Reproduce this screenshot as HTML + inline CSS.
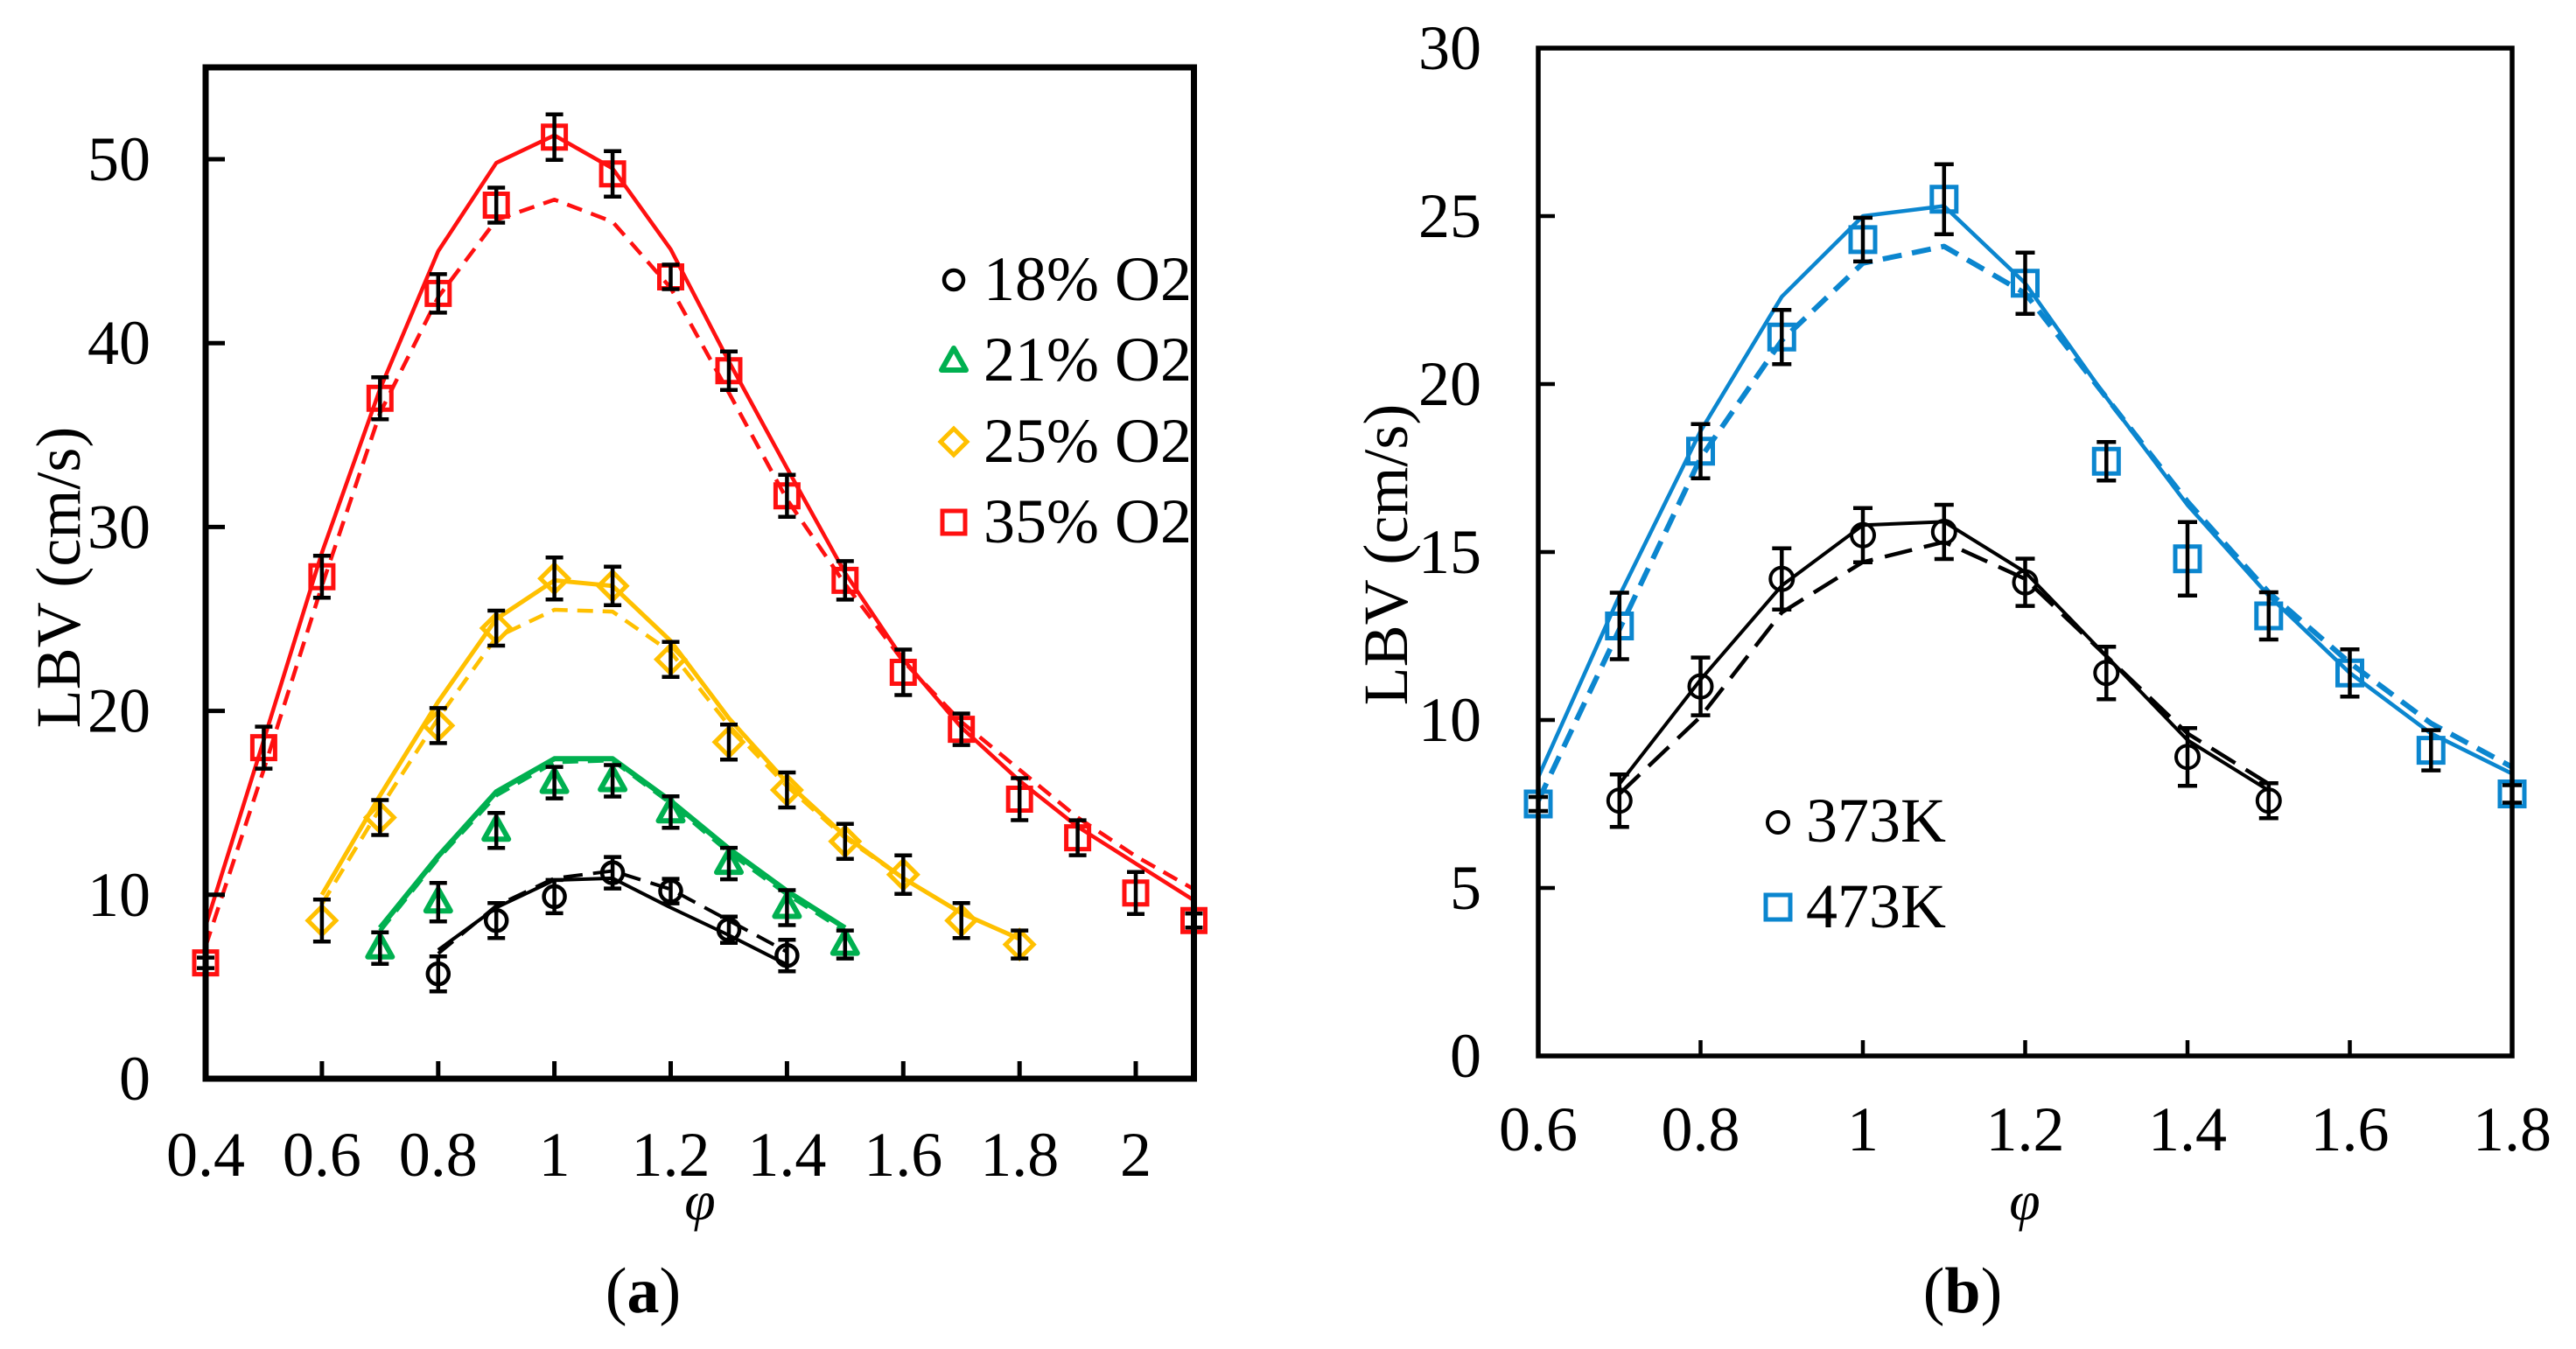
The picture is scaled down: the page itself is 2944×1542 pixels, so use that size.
<!DOCTYPE html>
<html>
<head>
<meta charset="utf-8">
<style>
html,body{margin:0;padding:0;background:#fff;}
svg{display:block;}
text{font-family:"Liberation Serif","Times New Roman",serif;fill:#000;}
</style>
</head>
<body>
<svg width="2944" height="1542" viewBox="0 0 2944 1542" xmlns="http://www.w3.org/2000/svg">
<rect width="2944" height="1542" fill="#fff"/>

<!-- ================= LEFT PLOT (a) ================= -->
<g fill="none" stroke-linejoin="round">
  <!-- red -->
  <polyline stroke="#ff1010" stroke-width="4.5" points="235,1058.5 301.4,846.2 367.9,631.8 434.3,444.7 500.8,287.1 567.2,186.2 633.6,154.7 700.1,192.5 766.5,285 833,413.2 899.4,535.1 965.8,654.9 1032.3,753.7 1098.7,831.5 1165.2,892.5 1231.6,945 1298,987.1 1364.5,1029.1"/>
  <polyline stroke="#ff1010" stroke-width="4.5" stroke-dasharray="18 11" points="235,1081.7 301.4,879.9 367.9,669.7 434.3,472.1 500.8,339.6 567.2,251.4 633.6,228.2 700.1,253.5 766.5,329.1 833,449 899.4,570.9 965.8,667.6 1032.3,755.8 1098.7,825.2 1165.2,879.9 1231.6,934.5 1298,978.7 1364.5,1016.5"/>
  <!-- yellow -->
  <polyline stroke="#ffc000" stroke-width="5" points="367.9,1022.8 434.3,909.3 500.8,802.1 567.2,707.5 633.6,663.4 700.1,669.7 766.5,732.7 833,821 899.4,894.6 965.8,955.5 1032.3,1003.9 1098.7,1043.8 1165.2,1073.2"/>
  <polyline stroke="#ffc000" stroke-width="4.5" stroke-dasharray="18 11" points="367.9,1033.3 434.3,924 500.8,821 567.2,728.5 633.6,697 700.1,699.1 766.5,745.3 833,829.4 899.4,898.8 965.8,957.6 1032.3,1003.9 1098.7,1043.8 1165.2,1073.2"/>
  <!-- green -->
  <polyline stroke="#00b050" stroke-width="6" points="434.3,1060.6 500.8,978.7 567.2,905.1 633.6,867.3 700.1,867.3 766.5,915.6 833,970.2 899.4,1018.6 965.8,1060.6"/>
  <polyline stroke="#00b050" stroke-width="5" stroke-dasharray="18 11" points="434.3,1064 500.8,981 567.2,909 633.6,871 700.1,869 766.5,918 833,974 899.4,1022 965.8,1064"/>
  <!-- black -->
  <polyline stroke="#000" stroke-width="4" points="500.8,1085.9 567.2,1037.5 633.6,1006 700.1,1003.9 766.5,1037.5 833,1069 899.4,1102.7"/>
  <polyline stroke="#000" stroke-width="4" stroke-dasharray="22 12" points="500.8,1090.1 567.2,1035.4 633.6,1003.9 700.1,995.5 766.5,1016.5 833,1052.2 899.4,1088"/>
</g>

<!-- markers left -->
<path fill="none" stroke="#ff1010" stroke-width="5" d="M222 1087.6h26v26h-26zM288.4 841.6h26v26h-26zM354.9 646.2h26v26h-26zM421.3 442.3h26v26h-26zM487.8 322.4h26v26h-26zM554.2 221.5h26v26h-26zM620.6 143.8h26v26h-26zM687.1 185.8h26v26h-26zM753.5 303.5h26v26h-26zM820 410.7h26v26h-26zM886.4 553.7h26v26h-26zM952.8 650.4h26v26h-26zM1019.3 755.5h26v26h-26zM1085.7 820.6h26v26h-26zM1152.2 900.5h26v26h-26zM1218.6 944.6h26v26h-26zM1285 1007.7h26v26h-26zM1351.5 1039.2h26v26h-26z"/>
<path fill="none" stroke="#ffc000" stroke-width="5" stroke-linejoin="miter" d="M367.9 1036.2l16 16l-16 16l-16-16zM434.3 918.5l16 16l-16 16l-16-16zM500.8 813.4l16 16l-16 16l-16-16zM567.2 702l16 16l-16 16l-16-16zM633.6 645.3l16 16l-16 16l-16-16zM700.1 653.7l16 16l-16 16l-16-16zM766.5 737.7l16 16l-16 16l-16-16zM833 832.3l16 16l-16 16l-16-16zM899.4 887l16 16l-16 16l-16-16zM965.8 945.8l16 16l-16 16l-16-16zM1032.3 983.7l16 16l-16 16l-16-16zM1098.7 1036.2l16 16l-16 16l-16-16zM1165.2 1063.6l16 16l-16 16l-16-16z"/>
<path fill="none" stroke="#00b050" stroke-width="6" stroke-linejoin="round" d="M434.3 1068.8l14 25h-28zM500.8 1016.2l14 25h-28zM567.2 934.2l14 25h-28zM633.6 879.6l14 25h-28zM700.1 877.5l14 25h-28zM766.5 913.2l14 25h-28zM833 972.1l14 25h-28zM899.4 1022.5l14 25h-28zM965.8 1064.6l14 25h-28z"/>
<g fill="none" stroke="#000" stroke-width="4.5">
  <circle cx="500.8" cy="1113.2" r="12"/><circle cx="567.2" cy="1052.2" r="12"/><circle cx="633.6" cy="1024.9" r="12"/><circle cx="700.1" cy="997.6" r="12"/><circle cx="766.5" cy="1018.6" r="12"/><circle cx="833" cy="1062.7" r="12"/><circle cx="899.4" cy="1092.2" r="12"/>
</g>

<!-- error bars left -->
<g fill="none" stroke="#000" stroke-width="4.5">
<path d="M235 1094.6V1106.6M225 1094.6H245M225 1106.6H245M301.4 830.6V878.6M291.4 830.6H311.4M291.4 878.6H311.4M367.9 635.2V683.2M357.9 635.2H377.9M357.9 683.2H377.9M434.3 431.3V479.3M424.3 431.3H444.3M424.3 479.3H444.3M500.8 313.4V357.4M490.8 313.4H510.8M490.8 357.4H510.8M567.2 214.5V254.5M557.2 214.5H577.2M557.2 254.5H577.2M633.6 130.8V182.8M623.6 130.8H643.6M623.6 182.8H643.6M700.1 172.8V224.8M690.1 172.8H710.1M690.1 224.8H710.1M766.5 302.5V330.5M756.5 302.5H776.5M756.5 330.5H776.5M833 401.7V445.7M823 401.7H843M823 445.7H843M899.4 542.7V590.7M889.4 542.7H909.4M889.4 590.7H909.4M965.8 641.4V685.4M955.8 641.4H975.8M955.8 685.4H975.8M1032.3 742.5V794.5M1022.3 742.5H1042.3M1022.3 794.5H1042.3M1098.7 815.6V851.6M1088.7 815.6H1108.7M1088.7 851.6H1108.7M1165.2 889.5V937.5M1155.2 889.5H1175.2M1155.2 937.5H1175.2M1231.6 937.6V977.6M1221.6 937.6H1241.6M1221.6 977.6H1241.6M1298 996.7V1044.7M1288 996.7H1308M1288 1044.7H1308M1364.5 1044.2V1060.2M1354.5 1044.2H1374.5M1354.5 1060.2H1374.5"/>
<path d="M367.9 1028.2V1076.2M357.9 1028.2H377.9M357.9 1076.2H377.9M434.3 914.5V954.5M424.3 914.5H444.3M424.3 954.5H444.3M500.8 809.4V849.4M490.8 809.4H510.8M490.8 849.4H510.8M567.2 698V738M557.2 698H577.2M557.2 738H577.2M633.6 637.3V685.3M623.6 637.3H643.6M623.6 685.3H643.6M700.1 647.7V691.7M690.1 647.7H710.1M690.1 691.7H710.1M766.5 733.7V773.7M756.5 733.7H776.5M756.5 773.7H776.5M833 828.3V868.3M823 828.3H843M823 868.3H843M899.4 883V923M889.4 883H909.4M889.4 923H909.4M965.8 941.8V981.8M955.8 941.8H975.8M955.8 981.8H975.8M1032.3 977.7V1021.7M1022.3 977.7H1042.3M1022.3 1021.7H1042.3M1098.7 1032.2V1072.2M1088.7 1032.2H1108.7M1088.7 1072.2H1108.7M1165.2 1063.6V1095.6M1155.2 1063.6H1175.2M1155.2 1095.6H1175.2"/>
<path d="M434.3 1065.8V1101.8M424.3 1065.8H444.3M424.3 1101.8H444.3M500.8 1009.2V1053.2M490.8 1009.2H510.8M490.8 1053.2H510.8M567.2 929.2V969.2M557.2 929.2H577.2M557.2 969.2H577.2M633.6 876.6V912.6M623.6 876.6H643.6M623.6 912.6H643.6M700.1 874.5V910.5M690.1 874.5H710.1M690.1 910.5H710.1M766.5 910.2V946.2M756.5 910.2H776.5M756.5 946.2H776.5M833 969.1V1005.1M823 969.1H843M823 1005.1H843M899.4 1017.5V1057.5M889.4 1017.5H909.4M889.4 1057.5H909.4M965.8 1063.6V1095.6M955.8 1063.6H975.8M955.8 1095.6H975.8"/>
<path d="M500.8 1093.2V1133.2M490.8 1093.2H510.8M490.8 1133.2H510.8M567.2 1032.2V1072.2M557.2 1032.2H577.2M557.2 1072.2H577.2M633.6 1005.9V1043.9M623.6 1005.9H643.6M623.6 1043.9H643.6M700.1 979.6V1015.6M690.1 979.6H710.1M690.1 1015.6H710.1M766.5 1004.6V1032.6M756.5 1004.6H776.5M756.5 1032.6H776.5M833 1047.7V1077.7M823 1047.7H843M823 1077.7H843M899.4 1074.2V1110.2M889.4 1074.2H909.4M889.4 1110.2H909.4"/>
</g>

<!-- axes left -->
<rect x="235" y="77" width="1129.5" height="1156" fill="none" stroke="#000" stroke-width="7"/>
<path fill="none" stroke="#000" stroke-width="5" d="M367.9 1233V1213M500.8 1233V1213M633.6 1233V1213M766.5 1233V1213M899.4 1233V1213M1032.3 1233V1213M1165.2 1233V1213M1298 1233V1213M235 1022.8H257M235 812.6H257M235 602.4H257M235 392.2H257M235 182H257"/>

<g font-size="72" text-anchor="end">
  <text x="172" y="1257">0</text>
  <text x="172" y="1046.8">10</text>
  <text x="172" y="836.6">20</text>
  <text x="172" y="626.4">30</text>
  <text x="172" y="416.2">40</text>
  <text x="172" y="206">50</text>
</g>
<g font-size="72" text-anchor="middle">
  <text x="235" y="1344">0.4</text>
  <text x="367.9" y="1344">0.6</text>
  <text x="500.8" y="1344">0.8</text>
  <text x="633.6" y="1344">1</text>
  <text x="766.5" y="1344">1.2</text>
  <text x="899.4" y="1344">1.4</text>
  <text x="1032.3" y="1344">1.6</text>
  <text x="1165.2" y="1344">1.8</text>
  <text x="1298" y="1344">2</text>
</g>
<text font-size="72" text-anchor="middle" transform="translate(91,660) rotate(-90)">LBV (cm/s)</text>
<text font-size="64" font-style="italic" text-anchor="middle" x="800" y="1394">φ</text>
<text font-size="74" text-anchor="middle" x="735" y="1500">(<tspan font-weight="bold">a</tspan>)</text>

<!-- legend left -->
<circle cx="1090" cy="320" r="11" fill="none" stroke="#000" stroke-width="4.5"/>
<path d="M1090 398l14 25h-28z" fill="none" stroke="#00b050" stroke-width="6" stroke-linejoin="round"/>
<path d="M1090 490l15 15l-15 15l-15-15z" fill="none" stroke="#ffc000" stroke-width="5"/>
<rect x="1077" y="584" width="26" height="26" fill="none" stroke="#ff1010" stroke-width="5"/>
<g font-size="72">
  <text x="1124" y="343">18% O2</text>
  <text x="1124" y="435">21% O2</text>
  <text x="1124" y="528">25% O2</text>
  <text x="1124" y="620">35% O2</text>
</g>

<!-- ================= RIGHT PLOT (b) ================= -->
<g fill="none" stroke-linejoin="round">
  <polyline stroke="#0b86cf" stroke-width="4.5" points="1758,888.3 1850.8,680.9 1943.5,492.8 2036.3,339.2 2129,247 2221.8,235.5 2314.5,323.8 2407.3,454.4 2500,577.2 2592.8,680.9 2685.5,769.2 2778.3,838.4 2871,884.4"/>
  <polyline stroke="#0b86cf" stroke-width="6" stroke-dasharray="22 12" points="1758,915.2 1850.8,719.3 1943.5,523.5 2036.3,389.1 2129,300.8 2221.8,281.6 2314.5,335.3 2407.3,454.4 2500,573.4 2592.8,677.1 2685.5,757.7 2778.3,826.8 2871,876.8"/>
  <polyline stroke="#000" stroke-width="4" points="1850.8,896 1943.5,776.9 2036.3,669.4 2129,600.3 2221.8,596.4 2314.5,654 2407.3,750 2500,846 2592.8,903.6"/>
  <polyline stroke="#000" stroke-width="4.5" stroke-dasharray="32 14" points="1850.8,907.5 1943.5,819.2 2036.3,700.1 2129,642.5 2221.8,619.5 2314.5,661.7 2407.3,750 2500,838.4 2592.8,896"/>
</g>

<path fill="none" stroke="#0b86cf" stroke-width="5" d="M1744 905h28v28h-28zM1836.8 701.5h28v28h-28zM1929.5 501.8h28v28h-28zM2022.3 371.2h28v28h-28zM2115 259.9h28v28h-28zM2207.8 213.8h28v28h-28zM2300.5 309.8h28v28h-28zM2393.3 513.3h28v28h-28zM2486 624.7h28v28h-28zM2578.8 690h28v28h-28zM2671.5 755.2h28v28h-28zM2764.3 843.6h28v28h-28zM2857 893.5h28v28h-28z"/>
<g fill="none" stroke="#000" stroke-width="4">
  <circle cx="1850.8" cy="915.2" r="13"/><circle cx="1943.5" cy="784.6" r="13"/><circle cx="2036.3" cy="661.7" r="13"/><circle cx="2129" cy="611.8" r="13"/><circle cx="2221.8" cy="608" r="13"/><circle cx="2314.5" cy="665.6" r="13"/><circle cx="2407.3" cy="769.2" r="13"/><circle cx="2500" cy="865.2" r="13"/><circle cx="2592.8" cy="915.2" r="13"/>
</g>

<g fill="none" stroke="#000" stroke-width="4.5">
<path d="M1758 911V927M1747 911H1769M1747 927H1769M1850.8 677.5V753.5M1839.8 677.5H1861.8M1839.8 753.5H1861.8M1943.5 484.8V546.8M1932.5 484.8H1954.5M1932.5 546.8H1954.5M2036.3 354.2V416.2M2025.3 354.2H2047.3M2025.3 416.2H2047.3M2129 248.9V298.9M2118 248.9H2140M2118 298.9H2140M2221.8 187.8V267.8M2210.8 187.8H2232.8M2210.8 267.8H2232.8M2314.5 288.8V358.8M2303.5 288.8H2325.5M2303.5 358.8H2325.5M2407.3 505.3V549.3M2396.3 505.3H2418.3M2396.3 549.3H2418.3M2500 596.7V680.7M2489 596.7H2511M2489 680.7H2511M2592.8 677V731M2581.8 677H2603.8M2581.8 731H2603.8M2685.5 742.2V796.2M2674.5 742.2H2696.5M2674.5 796.2H2696.5M2778.3 834.6V880.6M2767.3 834.6H2789.3M2767.3 880.6H2789.3M2871 897.5V917.5M2860 897.5H2882M2860 917.5H2882"/>
<path d="M1850.8 885.2V945.2M1839.8 885.2H1861.8M1839.8 945.2H1861.8M1943.5 751.6V817.6M1932.5 751.6H1954.5M1932.5 817.6H1954.5M2036.3 626.7V696.7M2025.3 626.7H2047.3M2025.3 696.7H2047.3M2129 580.8V642.8M2118 580.8H2140M2118 642.8H2140M2221.8 577V639M2210.8 577H2232.8M2210.8 639H2232.8M2314.5 638.6V692.6M2303.5 638.6H2325.5M2303.5 692.6H2325.5M2407.3 739.2V799.2M2396.3 739.2H2418.3M2396.3 799.2H2418.3M2500 832.2V898.2M2489 832.2H2511M2489 898.2H2511M2592.8 895.2V935.2M2581.8 895.2H2603.8M2581.8 935.2H2603.8"/>
</g>

<!-- axes right -->
<rect x="1758" y="55" width="1113" height="1152" fill="none" stroke="#000" stroke-width="5.5"/>
<path fill="none" stroke="#000" stroke-width="4.5" d="M1943.5 1207V1189M2129 1207V1189M2314.5 1207V1189M2500 1207V1189M2685.5 1207V1189M1758 1015H1777M1758 823H1777M1758 631H1777M1758 439H1777M1758 247H1777"/>

<g font-size="72" text-anchor="end">
  <text x="1693" y="1231">0</text>
  <text x="1693" y="1039">5</text>
  <text x="1693" y="847">10</text>
  <text x="1693" y="655">15</text>
  <text x="1693" y="463">20</text>
  <text x="1693" y="271">25</text>
  <text x="1693" y="79">30</text>
</g>
<g font-size="72" text-anchor="middle">
  <text x="1758" y="1315">0.6</text>
  <text x="1943.5" y="1315">0.8</text>
  <text x="2129" y="1315">1</text>
  <text x="2314.5" y="1315">1.2</text>
  <text x="2500" y="1315">1.4</text>
  <text x="2685.5" y="1315">1.6</text>
  <text x="2871" y="1315">1.8</text>
</g>
<text font-size="72" text-anchor="middle" transform="translate(1608,634) rotate(-90)">LBV (cm/s)</text>
<text font-size="64" font-style="italic" text-anchor="middle" x="2314" y="1394">φ</text>
<text font-size="74" text-anchor="middle" x="2243" y="1500">(<tspan font-weight="bold">b</tspan>)</text>

<!-- legend right -->
<circle cx="2032" cy="940" r="12" fill="none" stroke="#000" stroke-width="4"/>
<rect x="2018" y="1023" width="28" height="28" fill="none" stroke="#0b86cf" stroke-width="5"/>
<g font-size="72">
  <text x="2064" y="962">373K</text>
  <text x="2064" y="1060">473K</text>
</g>
</svg>
</body>
</html>
